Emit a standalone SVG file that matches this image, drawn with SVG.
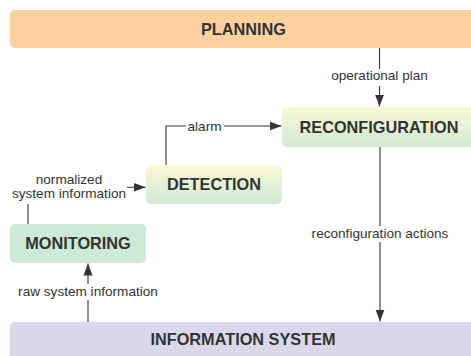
<svg xmlns="http://www.w3.org/2000/svg" width="471" height="356" viewBox="0 0 471 356">
<style>
.t{font-family:"Liberation Sans",Arial,sans-serif;font-weight:bold;font-size:16.3px;fill:#333;text-anchor:middle}
.l{font-family:"Liberation Sans",Arial,sans-serif;font-size:13.6px;fill:#333;text-anchor:middle}
.c{fill:none;stroke:#333;stroke-width:1.1}
.bg{fill:#fff}
</style>
<defs>
<linearGradient id="yg" x1="0" y1="0" x2="0" y2="1">
<stop offset="0" stop-color="#fbf8d6"/>
<stop offset="1" stop-color="#d2e9d6"/>
</linearGradient>
<marker id="ah" viewBox="0 0 12 10" refX="12" refY="5" markerWidth="12" markerHeight="10" markerUnits="userSpaceOnUse" orient="auto">
<path d="M0,0.5 L12,5 L0,9.5 Z" fill="#333"/>
</marker>
</defs>
<rect width="471" height="356" fill="#fff"/>
<g id="planning">
<rect x="10" y="10" width="480" height="38" rx="5" fill="#fdd09f"/>
<text class="t" x="243.5" y="34.5">PLANNING</text>
</g>
<g id="reconfiguration">
<rect x="282" y="107" width="200" height="40" rx="5" fill="url(#yg)"/>
<text class="t" x="379" y="132.5">RECONFIGURATION</text>
</g>
<g id="detection">
<rect x="146" y="165" width="136" height="39" rx="5" fill="url(#yg)"/>
<text class="t" x="214" y="190">DETECTION</text>
</g>
<g id="monitoring">
<rect x="10" y="224" width="136" height="39" rx="5" fill="#cde9d7"/>
<text class="t" x="78" y="248.5">MONITORING</text>
</g>
<g id="information-system">
<rect x="10" y="322" width="480" height="50" rx="5" fill="#dcd8ec"/>
<text class="t" x="243" y="345">INFORMATION SYSTEM</text>
</g>
<g id="connectors">
<path class="c" d="M379.5,48 V106.5" marker-end="url(#ah)"/>
<path class="c" d="M166,165 V126 H281.5" marker-end="url(#ah)"/>
<path class="c" d="M28,224 V187.3 H145.5" marker-end="url(#ah)"/>
<path class="c" d="M380,147 V321.5" marker-end="url(#ah)"/>
<path class="c" d="M88,322 V263.5" marker-end="url(#ah)"/>
</g>
<g id="labels">
<rect class="bg" x="328" y="69" width="103" height="17"/>
<text class="l" x="379.5" y="80">operational plan</text>
<rect class="bg" x="186" y="119" width="38" height="15"/>
<text class="l" x="204.5" y="130.5">alarm</text>
<rect class="bg" x="10" y="171" width="117" height="33"/>
<text class="l" x="69" y="184">normalized</text>
<text class="l" x="69" y="198">system information</text>
<rect class="bg" x="309" y="226" width="142" height="16"/>
<text class="l" x="380" y="237.5">reconfiguration actions</text>
<rect class="bg" x="15" y="284" width="146" height="16"/>
<text class="l" x="88" y="296">raw system information</text>
</g>
</svg>
